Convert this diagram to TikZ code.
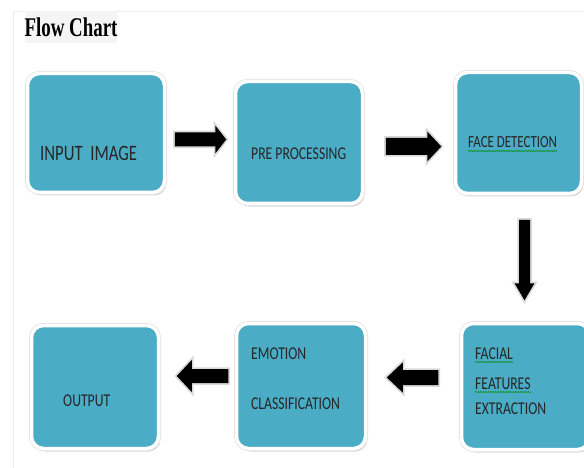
\documentclass[tikz,border=0pt]{standalone}
\usepackage{fontspec}
\usepackage{tikz}
\usetikzlibrary{calc,shadows,decorations.pathmorphing}
\newfontfamily\boxfont[FakeStretch=0.76]{Carlito}
\newfontfamily\titlefont[FakeStretch=0.7]{Liberation Serif}
\definecolor{boxblue}{HTML}{4BACC6}
\tikzset{
 box/.style={rounded corners=12pt,fill=boxblue,draw=white,line width=3.5pt,
  drop shadow={shadow xshift=2pt,shadow yshift=-3pt,fill=black!30},
  preaction={draw=black!12,line width=5pt}},
 txt/.style={inner sep=0pt,anchor=base west,text=black!85,font=\boxfont\fontsize{18}{21}\selectfont},
 squiggle/.style={draw=green!55!black,line width=.5pt,decorate,
  decoration={snake,amplitude=.6pt,segment length=2.5pt}},
 blockarrow/.style n args={3}{fill=black,preaction={draw=black!15,line width=3.5pt},
  to path={($(\tikztotarget)!#3pt!(\tikztostart)$) coordinate (ah)
   ($(\tikztostart)!#1pt!90:(\tikztotarget)$) -- ($(ah)!#1pt!90:(\tikztotarget)$)
   -- ($(ah)!#2pt!90:(\tikztotarget)$) -- (\tikztotarget) -- ($(ah)!#2pt!-90:(\tikztotarget)$)
   -- ($(ah)!#1pt!-90:(\tikztotarget)$) -- ($(\tikztostart)!#1pt!-90:(\tikztotarget)$) -- cycle}}
}
\begin{document}
\begin{tikzpicture}[x=1pt,y=-1pt]
 \useasboundingbox (0,0) rectangle (584,468);
 \draw[black!7] (13,468) -- (13,11) -- (584,11);
 \node[fill=black!4,inner xsep=0pt,minimum height=32pt,font=\titlefont\bfseries\fontsize{27}{30}\selectfont] (ttl) at (71,27.5) {Flow Chart};
 \foreach \id/\x/\y/\w/\h in
  {in/96/133/137/119,pre/299/142.5/127/122,face/518.5/133/126/121,feat/525.5/386.5/128/126,emo/301/386/129/125,out/95/387/127/123}
  \node[box,minimum width=\w pt,minimum height=\h pt] (\id) at (\x,\y) {};
 \node[txt,font=\boxfont\fontsize{22}{26}\selectfont] (intxt) at (40,161) {INPUT\ \ IMAGE};
 \node[txt] (pretxt) at (251,160) {PRE PROCESSING};
 \node[txt,font=\boxfont\fontsize{17}{20}\selectfont] (facetxt) at (468,148) {FACE DETECTION};
 \node[txt] (facial) at (475,359) {FACIAL};
 \node[txt] (features) at (475,389) {FEATURES};
 \node[txt] (extract) at (475,414) {EXTRACTION};
 \node[txt] (emotion) at (251,359) {EMOTION};
 \node[txt] (classif) at (251,409) {CLASSIFICATION};
 \node[txt] (outtxt) at (63,406) {OUTPUT};
 \foreach \t in {facetxt,facial,features}
  \draw[squiggle] ([yshift=-3pt]\t.base west) -- ([yshift=-3pt]\t.base east);
 \path[blockarrow={7}{14}{11}] ([shift={(8.5,6.5)}]in.east) to ([shift={(-7.5,-3)}]pre.west);
 \path[blockarrow={8.5}{15}{14}] ([shift={(21.5,4)}]pre.east) to ([shift={(-12.5,13.5)}]face.west);
 \path[blockarrow={5.5}{10}{17}] ([shift={(6,24.5)}]face.south) to ([shift={(-1,-21.5)}]feat.north);
 \path[blockarrow={7.5}{15}{16}] ([shift={(-21.5,-9)}]feat.west) to ([shift={(19.5,-8.5)}]emo.east);
 \path[blockarrow={7}{16}{15}] ([shift={(-6.5,-10)}]emo.west) to ([shift={(16.5,-11)}]out.east);
\end{tikzpicture}
\end{document}
